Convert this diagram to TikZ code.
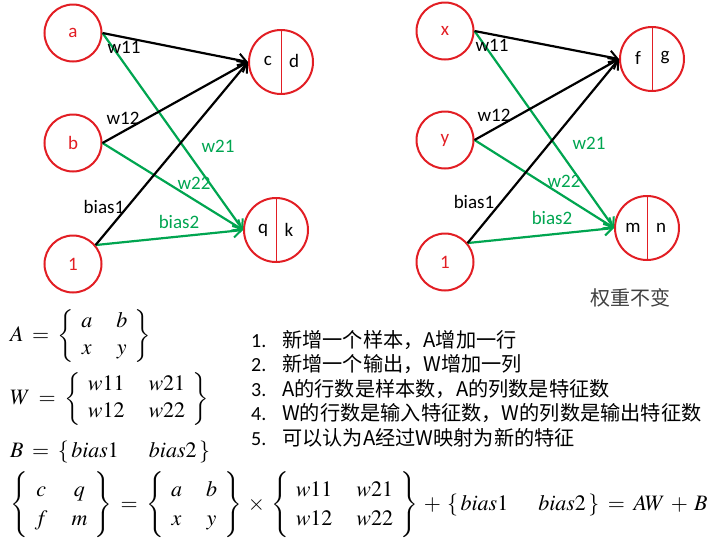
\documentclass[tikz,border=0pt]{standalone}
\usepackage{amsmath}
\usepackage{mathptmx}
\usepackage[no-math]{fontspec}
\setmainfont{Carlito}
\newfontfamily\cjk{Noto Sans CJK SC}
\usetikzlibrary{arrows.meta}
\definecolor{nred}{RGB}{226,30,36}
\definecolor{ngreen}{RGB}{0,165,80}
\newcommand{\mymat}[1]{\left\{\begin{array}{@{\hspace{7pt}}c@{\hspace{24pt}}c@{\hspace{7pt}}}#1\end{array}\right\}}
\newcommand{\mybias}{\left\{\,bias1\hspace{30pt}bias2\,\right\}}
\tikzset{
  inn/.style={circle, draw=nred, line width=2pt, minimum size=57pt, inner sep=0pt, text=nred, font=\fontsize{19}{22}\selectfont},
  outn/.style={circle, draw=nred, line width=2pt, minimum size=64pt, inner sep=0pt},
  divl/.style={draw=nred, line width=0.8pt},
  blk/.style={draw=black, line width=2.2pt, -{Straight Barb[length=8pt,width=13pt,line width=2pt]}},
  grn/.style={blk, draw=ngreen},
  lab/.style={font=\fontsize{19}{22}\selectfont, inner sep=0pt},
  glab/.style={lab, text=ngreen},
  eq/.style={anchor=west, inner sep=0pt, font=\fontsize{22}{27}\selectfont},
  num/.style={anchor=base west, inner sep=0pt, font=\fontsize{20}{22}\selectfont},
  item/.style={anchor=base west, inner sep=0pt, font=\cjk\fontsize{20.2}{22}\selectfont}
}
\begin{document}
\begin{tikzpicture}[x=1pt,y=-1pt]
\useasboundingbox (0,0) rectangle (720,544);
% ---------- left network ----------
\node[inn] (a) at (73,33) {a};
\node[inn] (b) at (73,143) {b};
\node[inn] (o1) at (73,264) {1};
\node[outn] (cd) at (281,62) {};
\draw[divl] (cd.north) -- (cd.south);
\node[lab] (cdc) at (268,61) {c};
\node[lab] (cdd) at (294,61) {d};
\node[outn] (qk) at (276,230) {};
\draw[divl] (qk.north) -- (qk.south);
\node[lab] (qkq) at (263,230) {q};
\node[lab] (qkk) at (289,230) {k};
\draw[grn] (a.east) -- (qk.west);
\draw[grn] (b.east) -- (qk.west);
\draw[grn] (o1.40) -- (qk.west);
\draw[blk] (a.east) -- (cd.west);
\draw[blk] (b.east) -- (cd.west);
\draw[blk] (o1.40) -- (cd.west);
\node[lab] (lw11) at (124,47) {w11};
\node[lab] (lw12) at (123,118) {w12};
\node[glab] (lw21) at (218,146) {w21};
\node[glab] (lw22) at (194,183) {w22};
\node[lab] (lb1) at (104,207) {bias1};
\node[glab] (lb2) at (179,222) {bias2};
% ---------- right network ----------
\node[inn] (x) at (445,31) {x};
\node[inn] (y) at (445,140) {y};
\node[inn] (o2) at (445,262) {1};
\node[outn] (fg) at (652,59) {};
\draw[divl] (fg.north) -- (fg.south);
\node[lab] (fgf) at (638,58) {f};
\node[lab] (fgg) at (665,58) {g};
\node[outn] (mn) at (647,228) {};
\draw[divl] (mn.north) -- (mn.south);
\node[lab] (mnm) at (633,228) {m};
\node[lab] (mnn) at (661,228) {n};
\draw[grn] (x.east) -- (mn.west);
\draw[grn] (y.east) -- (mn.west);
\draw[grn] (o2.40) -- (mn.west);
\draw[blk] (x.east) -- (fg.west);
\draw[blk] (y.east) -- (fg.west);
\draw[blk] (o2.40) -- (fg.west);
\node[lab] (rw11) at (492,45) {w11};
\node[lab] (rw12) at (494,115) {w12};
\node[glab] (rw21) at (589,143) {w21};
\node[glab] (rw22) at (564,181) {w22};
\node[lab] (rb1) at (474,202) {bias1};
\node[glab] (rb2) at (552,218) {bias2};
\node[inner sep=0pt, text=black!75, font=\cjk\fontsize{20}{22}\selectfont] (keep) at (630,298) {权重不变};
% ---------- equations ----------
\thickmuskip=7mu plus 3mu
\medmuskip=5mu plus 2mu
\node[eq] (eqA) at (10,336) {$A=\mymat{a & b\\ x & y}$};
\node[eq] (eqW) at (10,399) {$W=\mymat{w11 & w21\\ w12 & w22}$};
\node[eq] (eqB) at (10,452) {$B=\mybias$};
\node[eq] (eqR) at (10,505) {\renewcommand{\arraystretch}{1.1}$\mymat{c & q\\ f & m}=\mymat{a & b\\ x & y}\times\mymat{w11 & w21\\ w12 & w22}+\mybias=AW+B$};
% ---------- list ----------
\node[num] (n1) at (251,347) {1.};
\node[num] (n2) at (251,371.5) {2.};
\node[num] (n3) at (251,396) {3.};
\node[num] (n4) at (251,420.5) {4.};
\node[num] (n5) at (251,445) {5.};
\node[item] (t1) at (282,347) {新增一个样本，A增加一行};
\node[item] (t2) at (282,371.5) {新增一个输出，W增加一列};
\node[item] (t3) at (282,396) {A的行数是样本数，A的列数是特征数};
\node[item] (t4) at (282,420.5) {W的行数是输入特征数，W的列数是输出特征数};
\node[item] (t5) at (282,445) {可以认为A经过W映射为新的特征};
\end{tikzpicture}
\end{document}
